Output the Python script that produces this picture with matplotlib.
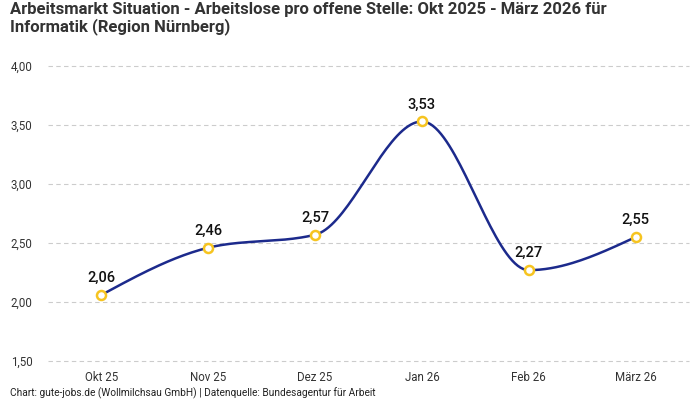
import numpy as np
import matplotlib
matplotlib.use("Agg")
import matplotlib.pyplot as plt

categories = ["Okt 25", "Nov 25", "Dez 25", "Jan 26", "Feb 26", "März 26"]
values = [2.06, 2.46, 2.57, 3.53, 2.27, 2.55]
yticks = [1.50, 2.00, 2.50, 3.00, 3.50, 4.00]

plt.rcParams['font.family'] = ['Roboto', 'DejaVu Sans']

def monotone_curve(x, y, n=40):
    x = np.asarray(x, float); y = np.asarray(y, float)
    h = np.diff(x); s = np.diff(y) / h
    m = np.zeros_like(y)
    for i in range(1, len(y) - 1):
        if s[i-1] * s[i] <= 0:
            m[i] = 0
        else:
            p = (s[i-1] * h[i] + s[i] * h[i-1]) / (h[i-1] + h[i])
            m[i] = (np.sign(s[i-1]) + np.sign(s[i])) * min(abs(s[i-1]), abs(s[i]), 0.5 * abs(p))
    m[0] = (3 * s[0] - m[1]) / 2 if len(y) > 2 else s[0]
    m[-1] = (3 * s[-1] - m[-2]) / 2
    xs, ys = [], []
    for i in range(len(x) - 1):
        t = np.linspace(0, 1, n)
        h00 = 2*t**3 - 3*t**2 + 1; h10 = t**3 - 2*t**2 + t
        h01 = -2*t**3 + 3*t**2; h11 = t**3 - t**2
        xs.append(x[i] + t * h[i])
        ys.append(h00*y[i] + h10*h[i]*m[i] + h01*y[i+1] + h11*h[i]*m[i+1])
    return np.concatenate(xs), np.concatenate(ys)

fig = plt.figure(figsize=(7, 4), dpi=100)
ax = fig.add_axes([48/700, 1 - 361/400, (689-48)/700, (361-66)/400])

xpos = np.arange(len(categories))
cx, cy = monotone_curve(xpos, values)
ax.plot(cx, cy, color="#1c2a8c", lw=1.8, zorder=3)
ax.plot(xpos, values, 'o', ms=6.5, mfc="white", mec="#f6c420", mew=1.8, zorder=4)
for xi, v in zip(xpos, values):
    ax.annotate(f"{v:.2f}".replace(".", ","), (xi, v), xytext=(0, 7), textcoords="offset points",
                ha="center", va="bottom", fontsize=10.5, fontweight="medium", color="#111111")

ax.set_xlim(-0.5, len(categories) - 0.5)
ax.set_ylim(1.5, 4.0)
ax.set_yticks(yticks)
ax.set_yticklabels([f"{t:.2f}".replace(".", ",") for t in yticks])
ax.set_xticks(xpos)
ax.set_xticklabels(categories)
ax.grid(axis="y", color="#cccccc", ls=(0, (4, 3)), lw=0.8)
for gl in ax.get_ygridlines():
    gl.set_clip_on(False)
ax.set_axisbelow(True)
for sp in ax.spines.values():
    sp.set_visible(False)
ax.tick_params(length=0, labelsize=8.3, colors="#333333")
ax.tick_params(axis="y", pad=11)
ax.tick_params(axis="x", pad=7)

fig.text(10/700, 1 - 2/400, "Arbeitsmarkt Situation - Arbeitslose pro offene Stelle: Okt 2025 - März 2026 für\nInformatik (Region Nürnberg)",
         ha="left", va="top", fontsize=12, fontweight="bold", color="#333333", linespacing=1.05)
fig.text(10/700, 1 - 396/400, "Chart: gute-jobs.de (Wollmilchsau GmbH) | Datenquelle: Bundesagentur für Arbeit",
         ha="left", va="baseline", fontsize=7.3, color="#222222")

fig.savefig("out.png", dpi=100)
